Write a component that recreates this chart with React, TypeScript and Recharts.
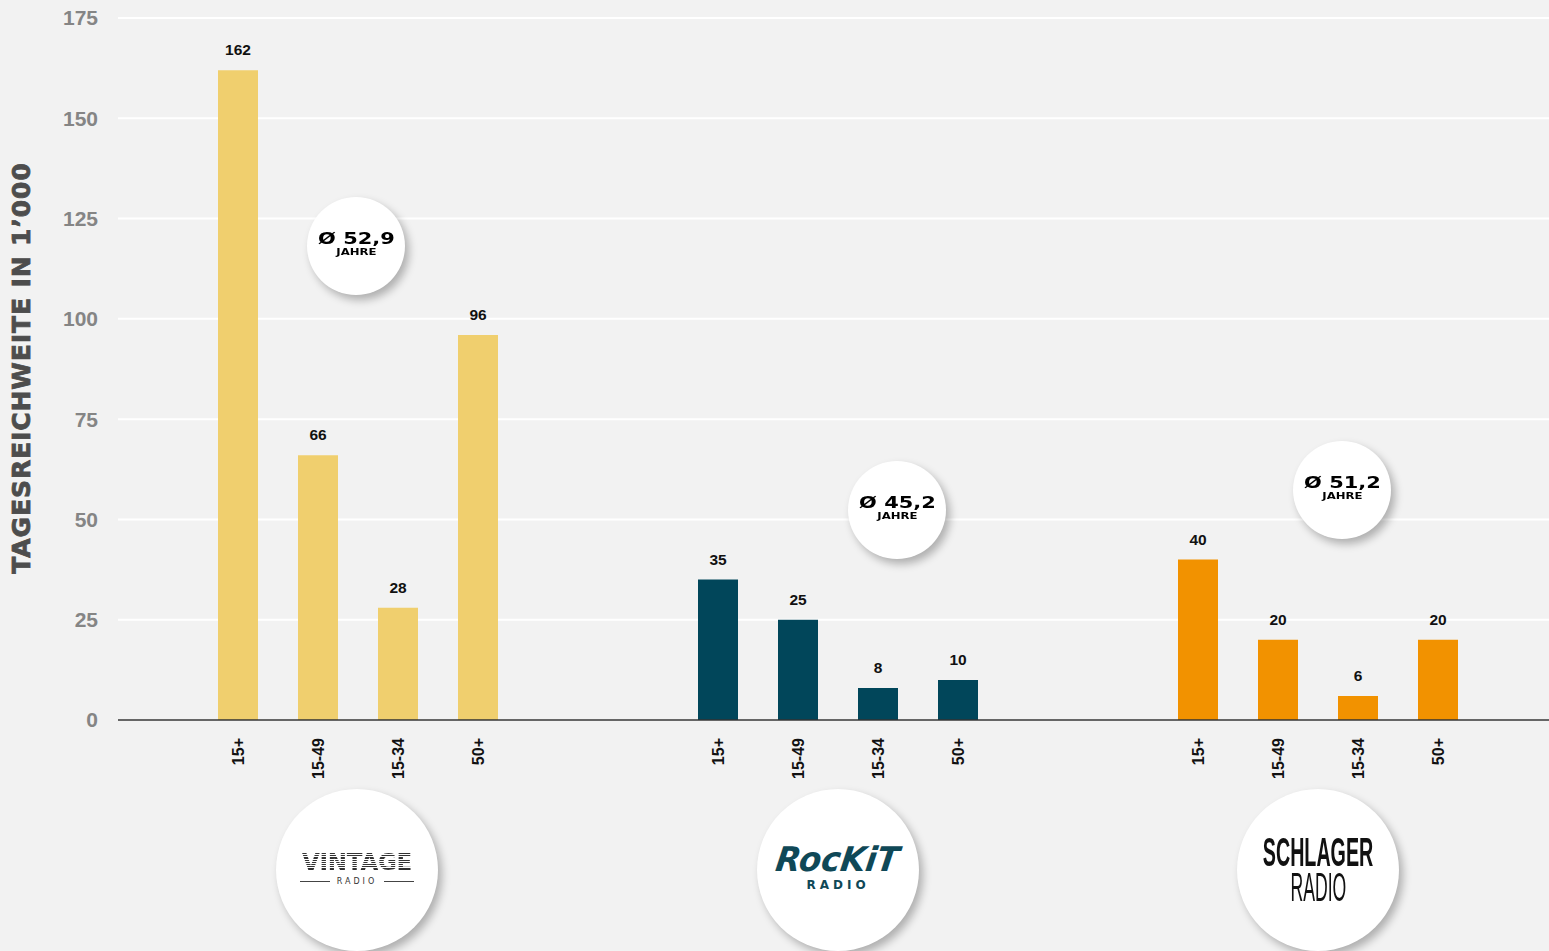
import React from 'react'
import { BarChart, Bar, XAxis, YAxis, CartesianGrid, Cell, LabelList } from 'recharts'

const ageGroups = ['15+', '15-49', '15-34', '50+']
const vintageValues = [162, 66, 28, 96]
const rockitValues = [35, 25, 8, 10]
const schlagerValues = [40, 20, 6, 20]
const yTicks = [0, 25, 50, 75, 100, 125, 150, 175]
const averages = ['Ø 52,9', 'Ø 45,2', 'Ø 51,2']

const stations = [
  { id: 'v', values: vintageValues, color: '#F0CF6E' },
  { id: 'r', values: rockitValues, color: '#01465A' },
  { id: 's', values: schlagerValues, color: '#F29200' },
]

type Row = { slot: string; label: string; value: number | null; color: string }

// spacer slots between the station groups
const rows: Row[] = []
const spacer = (n: number) => {
  for (let i = 0; i < n; i++) rows.push({ slot: 'gap' + rows.length, label: '', value: null, color: 'none' })
}
spacer(1)
stations.forEach((st, si) => {
  st.values.forEach((v, i) => rows.push({ slot: st.id + i, label: ageGroups[i], value: v, color: st.color }))
  spacer(si < 2 ? 2 : 1)
})

const labelBySlot = new Map(rows.map((r) => [r.slot, r.label]))

const AgeTick = (props: any) => {
  const { x, y, payload } = props
  const label = labelBySlot.get(payload.value)
  if (!label) return null
  return (
    <text
      x={x}
      y={y}
      transform={`rotate(-90 ${x} ${y})`}
      textAnchor="end"
      dominantBaseline="central"
      fontFamily="Liberation Sans, Arial, sans-serif"
      fontWeight={700}
      fontSize={16}
      fill="#111"
    >
      {label}
    </text>
  )
}

const wide: React.CSSProperties = {
  fontFamily: 'DejaVu Sans, sans-serif',
  fontWeight: 900,
  color: '#000',
}

function AvgBubble({ x, y, text }: { x: number; y: number; text: string }) {
  return (
    <div
      style={{
        position: 'absolute',
        left: x - 49,
        top: y - 49,
        width: 98,
        height: 98,
        borderRadius: '50%',
        background: '#fff',
        boxShadow: '4px 5px 8px rgba(0,0,0,0.28)',
        display: 'flex',
        flexDirection: 'column',
        alignItems: 'center',
        justifyContent: 'center',
      }}
    >
      <div style={{ ...wide, fontSize: 15.5, lineHeight: '16px', transform: 'scaleX(1.35)', marginTop: -4 }}>{text}</div>
      <div style={{ ...wide, fontSize: 9, lineHeight: '11px', transform: 'scaleX(1.3)' }}>JAHRE</div>
    </div>
  )
}

function LogoCircle({ x, children }: { x: number; children: React.ReactNode }) {
  return (
    <div
      style={{
        position: 'absolute',
        left: x - 81,
        top: 870 - 81,
        width: 162,
        height: 162,
        borderRadius: '50%',
        background: '#fff',
        boxShadow: '4px 5px 9px rgba(0,0,0,0.28)',
        display: 'flex',
        flexDirection: 'column',
        alignItems: 'center',
        justifyContent: 'center',
      }}
    >
      {children}
    </div>
  )
}

export default function App() {
  return (
    <div
      style={{
        position: 'absolute',
        left: 0,
        top: 0,
        width: 1549,
        height: 951,
        overflow: 'hidden',
        background: '#F2F2F2',
      }}
    >
      <BarChart
        width={1558}
        height={951}
        data={rows}
        margin={{ top: 18, right: 0, bottom: 171, left: 0 }}
        barSize={40}
      >
        <CartesianGrid vertical={false} stroke="#FFFFFF" strokeWidth={2} />
        <YAxis
          width={118}
          domain={[0, 175]}
          ticks={yTicks}
          axisLine={false}
          tickLine={false}
          tickSize={0}
          tickMargin={20}
          tick={{ fill: '#858585', fontSize: 21, fontWeight: 700, fontFamily: 'Liberation Sans, Arial, sans-serif' }}
        />
        <XAxis
          dataKey="slot"
          height={60}
          interval={0}
          axisLine={{ stroke: '#333', strokeWidth: 1.5 }}
          tickLine={false}
          tickSize={0}
          tickMargin={18}
          tick={<AgeTick />}
        />
        <Bar dataKey="value" isAnimationActive={false}>
          {rows.map((r) => (
            <Cell key={r.slot} fill={r.color} />
          ))}
          <LabelList
            dataKey="value"
            position="top"
            offset={15}
            style={{ fill: '#111', fontSize: 15.5, fontWeight: 700, fontFamily: 'Liberation Sans, Arial, sans-serif' }}
          />
        </Bar>
      </BarChart>

      <div
        style={{
          position: 'absolute',
          left: 21,
          top: 368,
          transform: 'translate(-50%, -50%) rotate(-90deg)',
          whiteSpace: 'nowrap',
          fontFamily: 'DejaVu Sans, sans-serif',
          fontWeight: 900,
          fontSize: 25,
          color: '#4D4D4D',
          letterSpacing: 0.9,
          WebkitTextStroke: '0.8px #4D4D4D',
        }}
      >
        TAGESREICHWEITE IN 1’000
      </div>

      <AvgBubble x={356} y={246} text={averages[0]} />
      <AvgBubble x={897} y={510} text={averages[1]} />
      <AvgBubble x={1342} y={490} text={averages[2]} />

      <LogoCircle x={357}>
        <div
          style={{
            fontFamily: 'DejaVu Sans, sans-serif',
            fontWeight: 900,
            fontSize: 23,
            lineHeight: '24px',
            letterSpacing: -0.3,
            backgroundImage: 'repeating-linear-gradient(0deg, #333 0px, #333 1.2px, #fff 1.2px, #fff 2.2px)',
            WebkitBackgroundClip: 'text',
            backgroundClip: 'text',
            color: 'transparent',
            marginTop: -4,
          }}
        >
          VINTAGE
        </div>
        <div style={{ display: 'flex', alignItems: 'center', gap: 7, marginTop: 3 }}>
          <div style={{ width: 30, height: 1, background: '#444' }} />
          <div style={{ fontFamily: 'DejaVu Sans, sans-serif', fontSize: 8, letterSpacing: 3, color: '#333' }}>RADIO</div>
          <div style={{ width: 30, height: 1, background: '#444' }} />
        </div>
      </LogoCircle>

      <LogoCircle x={838}>
        <div
          style={{
            fontFamily: 'DejaVu Sans, sans-serif',
            fontWeight: 900,
            fontStyle: 'italic',
            fontSize: 34,
            lineHeight: '34px',
            color: '#0F4857',
            transform: 'skewX(-8deg) scaleX(0.95)',
            marginTop: -6,
          }}
        >
          RocKiT
        </div>
        <div
          style={{
            fontFamily: 'DejaVu Sans, sans-serif',
            fontWeight: 700,
            fontSize: 12,
            letterSpacing: 4,
            color: '#0F4857',
            marginTop: 2,
          }}
        >
          RADIO
        </div>
      </LogoCircle>

      <LogoCircle x={1318}>
        <div
          style={{
            fontFamily: 'Liberation Sans, Arial, sans-serif',
            fontWeight: 700,
            fontSize: 41,
            lineHeight: '31px',
            height: 31,
            color: '#111',
            transform: 'scaleX(0.48)',
            marginTop: -2,
          }}
        >
          SCHLAGER
        </div>
        <div
          style={{
            fontFamily: 'Liberation Sans, Arial, sans-serif',
            fontWeight: 400,
            fontSize: 40,
            lineHeight: '30px',
            height: 30,
            color: '#111',
            transform: 'scaleX(0.44)',
            marginTop: 4,
          }}
        >
          RADIO
        </div>
      </LogoCircle>
    </div>
  )
}
